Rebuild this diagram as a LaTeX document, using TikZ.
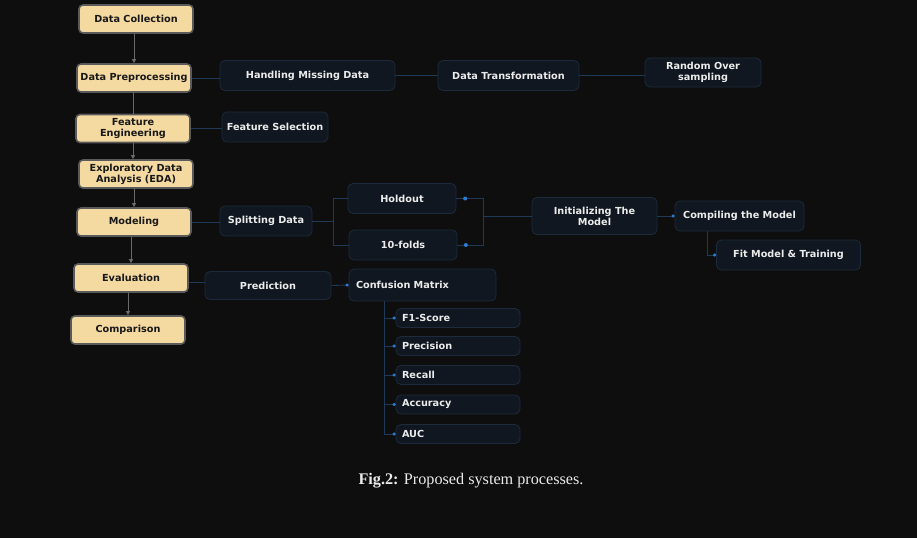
\documentclass[tikz,border=0pt]{standalone}
\usepackage{fontspec}
\setsansfont{DejaVu Sans}
\setmainfont{Liberation Serif}
\usetikzlibrary{arrows.meta}

\definecolor{bgdark}{HTML}{0E0E0E}
\definecolor{stagefill}{HTML}{F4D9A1}
\definecolor{stageline}{HTML}{5A5A5A}
\definecolor{taskfill}{HTML}{101720}
\definecolor{taskline}{HTML}{1E2B3C}
\definecolor{linkblue}{HTML}{1E3A58}
\definecolor{dotblue}{HTML}{2A7DD6}
\definecolor{flowgray}{HTML}{6A6A6A}

\begin{document}
\begin{tikzpicture}[x=1pt,y=-1pt]
    \tikzstyle{every node}=[font=\sffamily\bfseries\fontsize{9.7}{11}\selectfont]
    \tikzstyle{stage}=[draw=stageline,line width=1.6pt,fill=stagefill,rounded corners=4pt,
        minimum width=114pt,minimum height=28pt,align=center,text=black!90,inner sep=1pt]
    \tikzstyle{task}=[draw=taskline,line width=0.8pt,fill=taskfill,rounded corners=5pt,
        minimum height=30pt,align=center,text=white!92!black,inner sep=2pt]
    \tikzstyle{metric}=[task,minimum height=19pt,text width=112pt,inner xsep=6pt,align=left]
    \tikzstyle{flow}=[draw=flowgray,line width=0.8pt,-{Triangle[length=4pt,width=4pt]}]
    \tikzstyle{link}=[draw=linkblue,line width=0.9pt]
    \tikzstyle{dotlink}=[link,-{Circle[length=3pt,color=dotblue]}]
    \tikzstyle{dotmark}=[circle,fill=dotblue,inner sep=0pt,minimum size=4pt]

    %% Background and page size
    \fill[bgdark] (0,0) rectangle (917,538);
    \useasboundingbox (0,0) rectangle (917,538);

    %% Main stages
    \node[stage] (collect) at (136,19) {Data Collection};
    \node[stage] (prep) at (134,78) {Data Preprocessing};
    \node[stage] (feature) at (133,128.5) {Feature\\Engineering};
    \node[stage] (eda) at (136,174) {Exploratory Data\\Analysis (EDA)};
    \node[stage] (model) at (134,222) {Modeling};
    \node[stage] (eval) at (131,278) {Evaluation};
    \node[stage] (compare) at (128,330) {Comparison};

    \draw[flow] (collect.south -| prep.north) -- (prep.north);
    \draw[link,draw=flowgray,line width=0.8pt] (prep.south -| feature.north) -- (feature.north);
    \draw[flow] (feature.south) -- (feature.south |- eda.north);
    \draw[flow] (eda.south -| model.north) -- (model.north);
    \draw[flow] (model.south -| eval.north) -- (eval.north);
    \draw[flow] (eval.south -| compare.north) -- (compare.north);

    %% Preprocessing branch
    \node[task,minimum width=175pt] (missing) at (307.5,75.5) {Handling Missing Data};
    \node[task,minimum width=141pt] (transform) at (508.5,75.5) {Data Transformation};
    \node[task,minimum width=116pt,minimum height=29pt] (oversample) at (703,72.5) {Random Over\\sampling};
    \draw[link] (prep.east) -- (prep.east -| missing.west);
    \draw[link] (missing.east) -- (transform.west);
    \draw[link] (transform.east) -- (transform.east -| oversample.west);

    %% Feature branch
    \node[task,minimum width=106pt] (select) at (275,127) {Feature Selection};
    \draw[link] (feature.east) -- (feature.east -| select.west);

    %% Modeling branch
    \node[task,minimum width=92pt] (split) at (266,221) {Splitting Data};
    \node[task,minimum width=108pt] (holdout) at (402,198.5) {Holdout};
    \node[task,minimum width=108pt] (folds) at (403,245) {10-folds};
    \node[task,minimum width=125pt,minimum height=37pt] (init) at (594.5,216) {Initializing The\\Model};
    \node[task,minimum width=129pt] (compile) at (739.5,216) {Compiling the Model};
    \node[task,minimum width=144pt] (fit) at (788.5,255) {Fit Model \& Training};

    \coordinate (fork) at (333,221);
    \coordinate (join) at (483,216);
    \draw[link] (model.east) -- (model.east -| split.west);
    \draw[link] (split.east) -- (fork) |- (holdout.west);
    \draw[link] (fork) |- (folds.west);
    \draw[link] (holdout.east) -- node[dotmark,pos=0.33]{} (holdout.east -| join) |- (init.west);
    \draw[link] (folds.east) -- node[dotmark,pos=0.33]{} (folds.east -| join) |- (join);
    \draw[dotlink] (init.east) -- (compile.west);
    \draw[dotlink] ([xshift=-32pt]compile.south) |- (fit.west);

    %% Evaluation branch
    \node[task,minimum width=126pt,minimum height=28pt] (predict) at (268,285.5) {Prediction};
    \node[task,minimum height=32pt,text width=133pt,inner xsep=7pt,align=left] (confusion) at (422.5,285) {Confusion Matrix};
    \draw[link] ([yshift=-4pt]eval.east) -- ([yshift=-4pt]eval.east -| predict.west);
    \draw[dotlink] (predict.east) -- (confusion.west);

    \foreach \name/\label/\y in {f1/F1-Score/318,prec/Precision/346,rec/Recall/375,acc/Accuracy/404.5,auc/AUC/434}
    {
        \node[metric] (\name) at (458,\y) {\label};
        \draw[dotlink] ([xshift=36pt]confusion.south west) |- (\name.west);
    }

    %% Caption
    \node[font=\rmfamily\fontsize{16.2}{19}\selectfont,text=white!92!black] (caption) at (471,480.5)
        {\textbf{Fig.2:} Proposed system processes.};
\end{tikzpicture}
\end{document}
